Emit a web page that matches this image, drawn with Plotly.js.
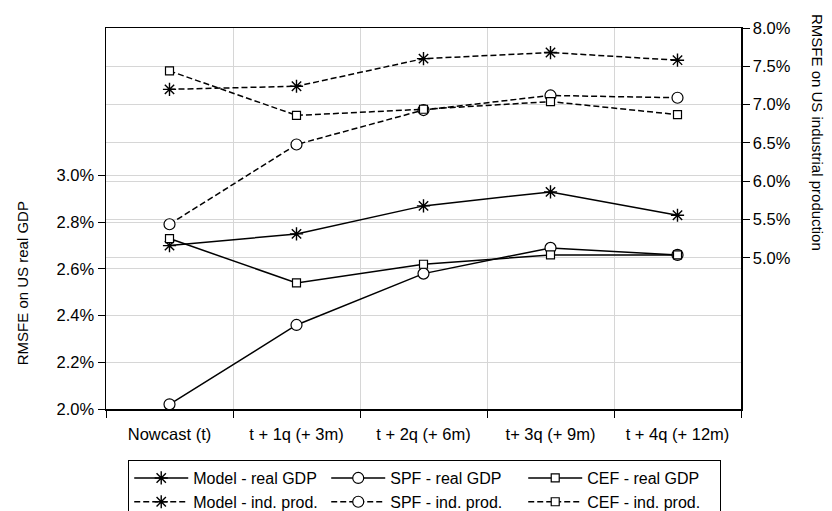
<!DOCTYPE html>
<html>
<head>
<meta charset="utf-8">
<script src="https://cdn.plot.ly/plotly-3.0.1.min.js"></script>
<style>
  html, body { margin: 0; padding: 0; background: #ffffff; }
  #chart { width: 832px; height: 511px; }
</style>
</head>
<body>
<div id="chart"></div>
<script>
// Forecast horizons (x categories)
const categories = ["Nowcast (t)", "t + 1q (+ 3m)", "t + 2q (+ 6m)", "t+ 3q (+ 9m)", "t + 4q (+ 12m)"];

// RMSFE on US real GDP (%), left axis
const modelGDP = [2.70, 2.75, 2.87, 2.93, 2.83];
const spfGDP   = [2.02, 2.36, 2.58, 2.69, 2.66];
const cefGDP   = [2.73, 2.54, 2.62, 2.66, 2.66];

// RMSFE on US industrial production (%), right axis
const modelIP = [7.20, 7.24, 7.60, 7.68, 7.58];
const spfIP   = [5.44, 6.48, 6.93, 7.12, 7.09];
const cefIP   = [7.44, 6.86, 6.94, 7.04, 6.87];

// Series names
const seriesNames = ["Model - real GDP", "SPF - real GDP", "CEF - real GDP",
                     "Model - ind. prod.", "SPF - ind. prod.", "CEF - ind. prod."];

// Tick labels
const leftTicks  = [2.0, 2.2, 2.4, 2.6, 2.8, 3.0];
const leftTickText  = ["2.0%", "2.2%", "2.4%", "2.6%", "2.8%", "3.0%"];
const rightTicks = [5.0, 5.5, 6.0, 6.5, 7.0, 7.5, 8.0];
const rightTickText = ["5.0%", "5.5%", "6.0%", "6.5%", "7.0%", "7.5%", "8.0%"];

const FONT = "Liberation Sans, Arial, Helvetica, sans-serif";

function mk(sym) {
  if (sym === "asterisk") {
    return { symbol: "asterisk-open", size: 11, color: "#000", line: { color: "#000", width: 1.4 } };
  }
  if (sym === "circle") {
    return { symbol: "circle", size: 11, color: "#fff", line: { color: "#000", width: 1.2 } };
  }
  return { symbol: "square", size: 8, color: "#fff", line: { color: "#000", width: 1.2 } };
}

function tr(name, y, sym, dashed, axis) {
  return {
    type: "scatter", mode: "lines+markers", name: name,
    x: categories, y: y, yaxis: axis,
    line: { color: "#000", width: 1.5, dash: dashed ? "6px,3px" : "solid" },
    marker: mk(sym), cliponaxis: false
  };
}

const data = [
  tr(seriesNames[0], modelGDP, "asterisk", false, "y"),
  tr(seriesNames[1], spfGDP, "circle", false, "y"),
  tr(seriesNames[2], cefGDP, "square", false, "y"),
  tr(seriesNames[3], modelIP, "asterisk", true, "y2"),
  tr(seriesNames[4], spfIP, "circle", true, "y2"),
  tr(seriesNames[5], cefIP, "square", true, "y2")
];

const layout = {
  width: 832, height: 511,
  margin: { l: 106, r: 91, t: 28, b: 102, autoexpand: false },
  paper_bgcolor: "#fff", plot_bgcolor: "#fff",
  font: { family: FONT, size: 16, color: "#000" },
  showlegend: true,
  legend: {
    orientation: "h", x: 0.035, xanchor: "left", y: -0.134, yanchor: "top",
    bordercolor: "#000", borderwidth: 1, bgcolor: "#fff",
    font: { family: FONT, size: 16, color: "#000" },
    entrywidth: 128, entrywidthmode: "pixels", itemwidth: 54,
    tracegroupgap: 0, traceorder: "normal"
  },
  xaxis: {
    type: "category", categoryorder: "array", categoryarray: categories,
    range: [-0.5, 4.5], tickson: "boundaries",
    ticks: "outside", ticklen: 7, tickcolor: "#000", tickwidth: 1,
    ticklabelstandoff: 10,
    showgrid: true, gridcolor: "#d6d6d6", gridwidth: 1,
    showline: true, linecolor: "#000", linewidth: 1.5, mirror: true,
    tickfont: { family: FONT, size: 16.5, color: "#000" },
    zeroline: false, fixedrange: true
  },
  yaxis: {
    range: [2.0, 3.632], tickvals: leftTicks, ticktext: leftTickText,
    ticks: "outside", ticklen: 7, tickcolor: "#000", tickwidth: 1,
    showgrid: true, gridcolor: "#d6d6d6", gridwidth: 1,
    showline: true, linecolor: "#000", linewidth: 1.5,
    tickfont: { family: FONT, size: 16.5, color: "#000" },
    zeroline: false, fixedrange: true
  },
  yaxis2: {
    overlaying: "y", side: "right",
    range: [3.03, 8.0], tickvals: rightTicks, ticktext: rightTickText,
    ticks: "outside", ticklen: 7, tickcolor: "#000", tickwidth: 1,
    showgrid: true, gridcolor: "#d6d6d6", gridwidth: 1,
    showline: true, linecolor: "#000", linewidth: 1.5,
    tickfont: { family: FONT, size: 16.5, color: "#000" },
    zeroline: false, fixedrange: true
  },
  annotations: [
    {
      text: "RMSFE on US real GDP", xref: "paper", yref: "paper",
      x: -0.1323, y: 0.33, xanchor: "center", yanchor: "middle",
      textangle: -90, showarrow: false,
      font: { family: FONT, size: 15, color: "#000" }
    },
    {
      text: "RMSFE on US industrial production", xref: "paper", yref: "paper",
      x: 1.1213, y: 0.727, xanchor: "center", yanchor: "middle",
      textangle: 90, showarrow: false,
      font: { family: FONT, size: 15, color: "#000" }
    }
  ]
};

Plotly.newPlot("chart", data, layout, { staticPlot: true, displayModeBar: false });
</script>
</body>
</html>
